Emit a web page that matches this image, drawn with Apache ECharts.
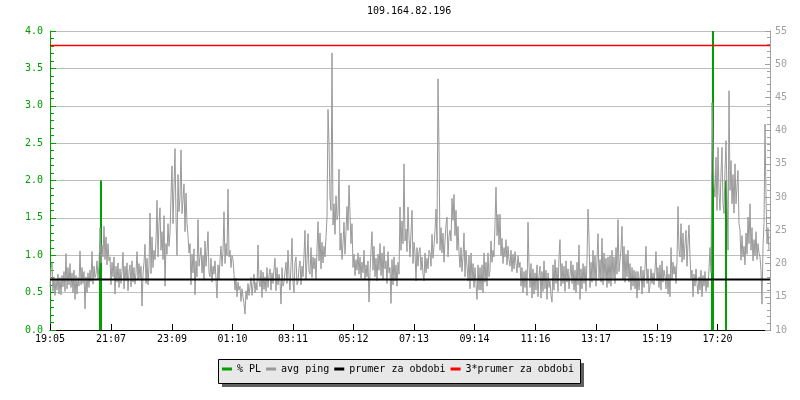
<!DOCTYPE html>
<html><head><meta charset="utf-8">
<script src="https://cdn.jsdelivr.net/npm/echarts@6/dist/echarts.min.js"></script>
<style>html,body{margin:0;padding:0;background:#fff}#c{width:800px;height:400px}</style>
</head><body><div id="c"></div>
<script>
const chartTitle = '109.164.82.196';
const xTickMinutes = [0, 122, 244, 365, 486, 607, 728, 849, 971, 1092, 1214, 1335];
const xTickLabels = ['19:05', '21:07', '23:09', '01:10', '03:11', '05:12', '07:13', '09:14', '11:16', '13:17', '15:19', '17:20'];
const spanMinutes = 1440;
const sampleStepMinutes = 2;
const seriesNames = ['% PL', 'avg ping', 'prumer za obdobi', '3*prumer za obdobi'];

// avg ping (ms), one sample every 2 minutes
const pingMs = [
16.5,19.2,20.1,15.8,18.0,15.2,17.6,16.0,18.4,15.4,
17.9,15.3,18.2,16.5,18.8,15.8,21.5,16.2,19.4,16.8,
20.0,16.4,18.6,15.6,19.0,14.6,18.2,15.4,17.9,16.6,
21.9,16.8,19.4,17.0,18.8,13.2,18.0,15.6,18.6,16.4,
19.0,17.3,21.8,16.9,19.6,17.9,18.4,20.4,17.6,19.8,
25.4,20.1,22.8,21.0,25.6,20.6,24.0,19.8,23.0,20.4,
21.0,16.8,20.2,18.0,21.0,15.4,19.6,17.2,20.1,16.4,
19.2,17.0,18.8,21.7,16.2,19.6,17.4,20.1,15.9,18.8,
19.8,16.5,20.4,17.2,19.4,16.9,18.6,21.8,17.6,20.0,
17.8,19.6,13.6,18.4,20.2,22.9,17.0,20.8,16.8,19.6,
27.6,18.5,24.0,19.4,22.0,20.6,23.4,29.5,21.0,26.0,
28.4,22.0,24.8,20.6,27.2,16.6,23.0,21.4,26.0,22.6,
24.6,30.2,34.7,26.0,31.4,37.3,27.0,21.2,33.4,27.8,
30.0,37.1,27.5,29.6,32.0,24.8,30.6,26.0,24.2,21.6,
23.0,16.8,21.4,18.6,22.2,15.3,20.4,18.0,26.6,19.6,
19.4,22.4,18.6,21.2,17.5,23.4,19.6,21.8,24.8,18.6,
18.0,20.8,17.2,19.6,18.4,20.4,17.6,14.8,19.8,17.6,
20.5,22.6,19.6,21.8,27.8,20.0,23.0,21.2,31.2,21.0,
22.0,19.4,21.2,20.6,18.4,16.0,17.8,15.0,17.2,16.0,
16.6,14.3,16.2,15.0,14.0,12.4,15.9,14.6,17.0,15.2,
14.9,17.9,15.2,16.8,18.4,15.6,17.2,16.0,22.8,17.4,
16.5,19.0,14.9,18.7,16.1,18.0,15.8,19.4,16.4,18.2,
19.2,16.0,18.6,17.0,19.0,20.8,15.9,19.4,16.8,18.4,
17.4,13.9,19.4,16.6,17.2,18.8,20.2,17.0,22.0,18.2,
16.0,19.8,23.8,17.2,15.6,20.2,21.0,16.8,17.2,19.4,
20.4,16.8,19.6,18.0,21.2,25.0,17.5,20.6,24.5,18.8,
18.4,22.4,17.9,21.0,19.2,20.8,17.6,22.2,26.3,20.4,
24.6,19.2,23.2,20.1,22.6,21.0,24.0,27.0,43.2,38.0,
30.0,28.0,51.7,25.8,29.0,24.4,30.2,26.6,27.4,34.2,
22.0,24.6,20.6,23.0,26.2,21.4,24.8,28.6,25.0,31.8,
27.6,23.0,26.0,19.4,21.4,18.2,20.6,19.0,21.6,18.4,
21.0,17.8,20.2,18.6,22.0,17.6,19.8,18.0,20.4,14.2,
18.6,22.0,24.8,19.0,22.6,18.0,20.8,17.4,21.4,19.0,
23.0,18.2,21.6,17.6,22.6,19.2,20.4,17.0,21.8,18.6,
19.4,14.0,20.6,16.8,21.0,17.4,19.8,16.6,20.2,18.4,
28.5,22.0,26.4,23.0,35.0,23.4,25.2,21.8,28.5,24.0,
21.0,24.6,28.0,20.0,23.2,21.6,17.4,22.4,19.6,21.8,
22.4,19.0,21.0,18.4,17.4,21.6,18.6,20.8,19.2,22.0,
21.6,19.6,24.4,20.8,22.6,25.0,28.2,23.0,47.8,37.0,
22.0,25.4,21.6,24.6,20.2,23.4,25.8,27.0,21.0,24.2,
25.0,23.4,29.8,26.5,30.4,24.2,28.0,22.0,25.6,21.6,
19.4,22.4,18.8,21.0,24.6,18.0,22.0,19.6,17.4,21.2,
16.2,21.6,17.4,20.0,16.4,19.4,17.0,14.6,19.8,16.0,
19.4,16.0,19.8,15.6,21.6,17.2,20.2,16.6,21.6,18.0,
19.0,23.4,20.2,22.0,21.0,26.0,31.5,24.2,27.4,22.8,
27.4,21.2,23.8,20.0,22.4,21.0,23.6,19.8,22.6,20.6,
19.6,22.0,18.8,21.4,19.2,21.8,20.0,18.6,21.2,19.4,
20.2,16.6,19.4,15.6,18.8,16.4,19.0,15.2,26.2,19.8,
16.4,20.0,14.8,19.2,15.4,18.6,16.0,19.8,15.0,18.2,
19.6,14.8,18.8,15.8,20.4,16.2,19.0,14.6,18.6,16.4,
17.4,15.2,14.2,19.8,16.0,20.6,17.0,19.4,15.8,21.0,
23.6,16.6,20.0,17.0,19.6,15.8,20.4,17.2,19.2,16.2,
16.4,20.4,17.0,19.8,16.0,19.0,15.6,20.2,16.8,22.8,
14.6,19.2,16.2,20.0,17.0,19.6,15.8,20.6,28.2,24.0,
16.4,20.2,17.2,22.0,17.6,21.2,16.6,20.6,24.5,17.8,
20.6,17.2,23.8,16.8,21.6,17.8,20.8,16.4,21.0,17.0,
21.2,16.6,22.0,17.8,21.0,17.0,22.4,18.4,26.6,18.8,
19.0,22.2,25.6,17.6,22.6,17.2,21.4,18.0,22.0,17.2,
20.0,16.0,19.4,16.6,19.0,16.2,18.8,14.8,18.8,16.0,
15.8,19.6,15.4,19.0,16.4,19.4,22.6,17.0,19.2,15.6,
16.6,19.2,17.0,18.6,16.8,19.0,21.8,17.4,19.4,16.4,
19.8,16.0,20.4,17.2,19.0,18.0,16.2,19.6,15.4,18.4,
15.0,22.4,17.6,20.2,18.4,19.6,17.0,20.4,28.6,22.0,
21.0,26.0,20.2,24.6,20.6,22.8,25.0,19.6,23.0,25.8,
21.0,17.8,19.0,15.0,18.4,16.6,19.2,17.0,15.4,18.0,
16.0,19.0,15.0,18.2,16.6,18.8,15.8,17.6,16.4,19.2,
22.4,18.6,44.2,37.5,32.0,30.0,36.0,28.0,37.5,30.6,
28.0,33.6,37.5,29.0,27.5,34.0,38.5,30.4,22.0,46.0,
31.0,35.5,29.0,33.4,27.6,35.0,29.0,31.6,34.0,26.0,
25.0,20.5,24.2,21.0,22.6,19.8,24.6,21.4,27.0,23.0,
29.0,22.0,25.4,20.4,23.6,21.2,24.8,20.6,23.0,21.6,
21.0,19.0,13.9,22.6,26.0,41.0,30.0,23.0,25.4,22.0
];

// packet loss (%) - nonzero samples only (zero elsewhere)
const plMinutes = [100, 102, 1324, 1326, 1352];
const plPercent = [1.05, 2.0, 2.08, 4.6, 2.0];

const meanPing = 17.6;

const FONT = 'DejaVu Sans Mono';
const pingData = pingMs.map((v, i) => [i * sampleStepMinutes, v]);
const plData = plMinutes.map((m, i) => [m, plPercent[i]]);

const chart = echarts.init(document.getElementById('c'), null, {renderer: 'canvas'});
chart.setOption({
  animation: false,
  backgroundColor: '#ffffff',
  textStyle: {fontFamily: FONT},
  title: {
    text: chartTitle, left: 367, top: 6, padding: 0,
    textStyle: {fontSize: 10, fontWeight: 'normal', color: '#000', fontFamily: FONT}
  },
  grid: {left: 50, right: 30, top: 31, bottom: 70},
  graphic: [
    {type: 'rect', silent: true, shape: {x: 222, y: 363, width: 362, height: 24}, style: {fill: '#606060'}},
    {type: 'rect', silent: true, shape: {x: 218.5, y: 359.5, width: 362, height: 24}, style: {fill: '#e8e8e8', stroke: '#000', lineWidth: 1}}
  ],
  legend: {
    left: 222, top: 364, padding: 0, itemGap: 5, itemWidth: 10, itemHeight: 3, icon: 'rect',
    textStyle: {fontSize: 10, color: '#000', fontFamily: FONT},
    data: seriesNames
  },
  xAxis: {
    type: 'value', min: 0, max: spanMinutes,
    splitLine: {show: false},
    axisLine: {lineStyle: {color: '#000', width: 1}},
    axisTick: {inside: true, length: 6, customValues: xTickMinutes, lineStyle: {color: '#000'}},
    axisLabel: {
      customValues: xTickMinutes, color: '#000', fontSize: 10, margin: 4, fontFamily: FONT,
      formatter: v => { const k = xTickMinutes.indexOf(v); return k >= 0 ? xTickLabels[k] : ''; }
    }
  },
  yAxis: [
    {
      type: 'value', min: 0, max: 4, interval: 0.5, position: 'left',
      axisLine: {show: true, lineStyle: {color: '#00a000'}},
      axisTick: {show: true, inside: true, length: 6, lineStyle: {color: '#00a000'}},
      minorTick: {show: true, splitNumber: 5, length: 4, lineStyle: {color: '#00a000'}},
      splitLine: {show: true, lineStyle: {color: '#bebebe', width: 1}},
      axisLabel: {color: '#00a000', fontSize: 10, margin: 7, fontFamily: FONT, formatter: v => v.toFixed(1)}
    },
    {
      type: 'value', min: 10, max: 55, interval: 5, position: 'right',
      axisLine: {show: true, lineStyle: {color: '#a0a0a0'}},
      axisTick: {show: true, inside: true, length: 5, lineStyle: {color: '#a0a0a0'}},
      minorTick: {show: true, splitNumber: 5, length: 3, lineStyle: {color: '#a0a0a0'}},
      splitLine: {show: false},
      axisLabel: {color: '#a0a0a0', fontSize: 10, margin: 5, fontFamily: FONT}
    }
  ],
  series: [
    {
      name: seriesNames[0], type: 'bar', yAxisIndex: 0, data: plData,
      barWidth: 2, itemStyle: {color: '#00a000'}, clip: true
    },
    {
      name: seriesNames[1], type: 'line', yAxisIndex: 1, data: pingData,
      showSymbol: false, symbol: 'none', lineStyle: {color: '#999999', width: 1},
      itemStyle: {color: '#999999'}
    },
    {
      name: seriesNames[2], type: 'line', yAxisIndex: 1,
      data: [[0, meanPing], [spanMinutes, meanPing]],
      showSymbol: false, symbol: 'none', lineStyle: {color: '#000000', width: 2},
      itemStyle: {color: '#000000'}
    },
    {
      name: seriesNames[3], type: 'line', yAxisIndex: 1,
      data: [[0, 3 * meanPing], [spanMinutes, 3 * meanPing]],
      showSymbol: false, symbol: 'none', lineStyle: {color: '#ff0000', width: 1.5},
      itemStyle: {color: '#ff0000'}
    }
  ]
});
</script>
</body></html>
